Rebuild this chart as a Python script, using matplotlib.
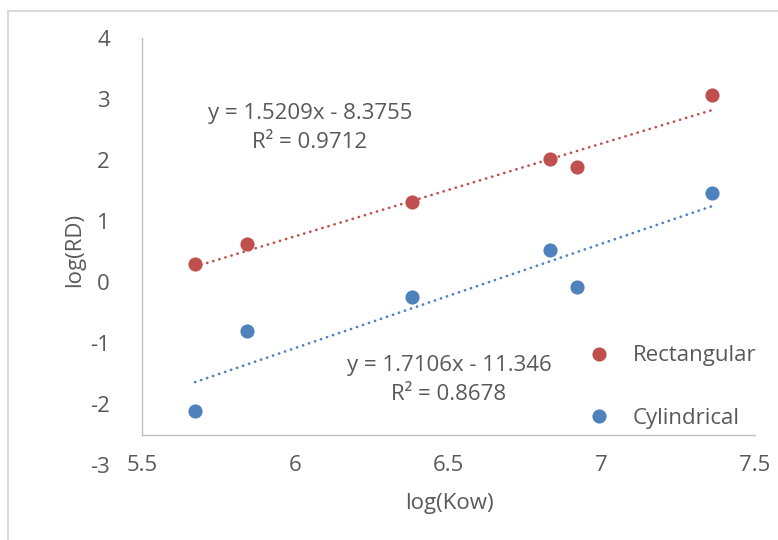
import matplotlib
matplotlib.use("Agg")
import matplotlib.pyplot as plt
from matplotlib.patches import Rectangle

# Data
log_kow = [5.673, 5.844, 6.382, 6.831, 6.920, 7.361]
rect_rd = [0.29, 0.62, 1.31, 2.01, 1.885, 3.066]
cyl_rd = [-2.115, -0.80, -0.241, 0.525, -0.087, 1.454]

# Linear trendline coefficients (slope, intercept, R²)
rect_fit = (1.5209, -8.3755, 0.9712)
cyl_fit = (1.7106, -11.346, 0.8678)

x_ticks = [5.5, 6, 6.5, 7, 7.5]
x_tick_labels = ["5.5", "6", "6.5", "7", "7.5"]
y_ticks = [-3, -2, -1, 0, 1, 2, 3, 4]

RED = "#C0504D"
BLUE = "#4F81BD"
TXT = "#595959"
AXC = "#BFBFBF"

plt.rcParams['font.family'] = ['Open Sans', 'DejaVu Sans']
plt.rcParams['axes.unicode_minus'] = False
FS = 16

fig = plt.figure(figsize=(7.78, 5.40), dpi=100)
W, H = 778, 540

# chart border
fig.patches.append(Rectangle((8 / W, -0.1), 1.2, 1 - 11 / H + 0.1, transform=fig.transFigure,
                             fill=False, edgecolor="#D9D9D9", linewidth=1.5))

left, right_px, top_px, bot_px = 142, 755, 38, 465
ax = fig.add_axes([left / W, 1 - bot_px / H, (right_px - left) / W, (bot_px - top_px) / H])
ax.set_xlim(5.5, 7.5)
ax.set_ylim(-3, 4)
ax.patch.set_alpha(0)

for s in ["top", "right", "bottom"]:
    ax.spines[s].set_visible(False)
ax.spines["left"].set_color(AXC)
ax.spines["left"].set_linewidth(1.0)
ax.spines["left"].set_bounds(-2.5, 4)
ax.plot([5.5, 7.5], [-2.5, -2.5], color=AXC, linewidth=1.0, clip_on=False, zorder=1)

ax.set_xticks(x_ticks)
ax.set_xticklabels(x_tick_labels)
ax.set_yticks(y_ticks)
ax.tick_params(axis="both", length=0, labelsize=FS, labelcolor=TXT)
ax.tick_params(axis="y", pad=23)
ax.tick_params(axis="x", pad=-7)

# trendlines across the data range
xmin, xmax = min(log_kow), max(log_kow)
for (m, b, r2), c in [(rect_fit, RED), (cyl_fit, BLUE)]:
    ax.plot([xmin, xmax], [m * xmin + b, m * xmax + b], color=c, linewidth=1.9,
            linestyle=(0, (0.1, 2.3)), dash_capstyle="round", zorder=2)

ax.plot(log_kow, rect_rd, "o", color=RED, markersize=10.2, markeredgewidth=0, label="Rectangular", zorder=3)
ax.plot(log_kow, cyl_rd, "o", color=BLUE, markersize=10.2, markeredgewidth=0, label="Cylindrical", zorder=3)

def eq_text(fit):
    m, b, r2 = fit
    sign = "-" if b < 0 else "+"
    return f"y = {m:.4f}x {sign} {abs(b):g}", f"R² = {r2:.4f}"

l1, l2 = eq_text(rect_fit)
fig.text(310 / W, 1 - 113 / H, l1, ha="center", va="center", fontsize=FS, color=TXT)
fig.text(310 / W, 1 - 143 / H, l2, ha="center", va="center", fontsize=FS, color=TXT)
l1, l2 = eq_text(cyl_fit)
fig.text(449 / W, 1 - 366 / H, l1, ha="center", va="center", fontsize=FS, color=TXT)
fig.text(449 / W, 1 - 395 / H, l2, ha="center", va="center", fontsize=FS, color=TXT)

ax.set_xlabel("log(Kow)", fontsize=FS, color=TXT)
ax.xaxis.set_label_coords((449 - left) / (right_px - left), (bot_px - 493) / (bot_px - top_px))
ax.set_ylabel("log(RD)", fontsize=FS, color=TXT)
ax.yaxis.set_label_coords((85 - left) / (right_px - left), (bot_px - 250) / (bot_px - top_px))

leg = fig.legend(loc="center left", bbox_to_anchor=(588 / W, 1 - 387 / H), frameon=False,
                 fontsize=FS, labelcolor=TXT, handletextpad=1.0, labelspacing=1.85,
                 handlelength=1.0, borderpad=0, borderaxespad=0)

fig.savefig("out.png", dpi=100)
